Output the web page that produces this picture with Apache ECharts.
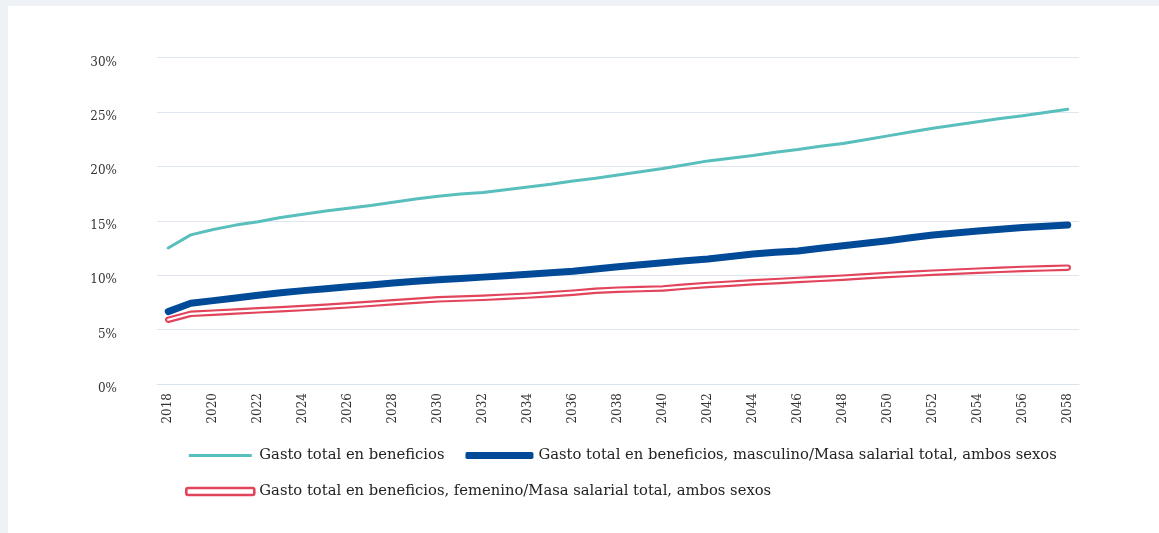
<!DOCTYPE html>
<html>
<head>
<meta charset="utf-8">
<script src="https://cdn.jsdelivr.net/npm/echarts@6/dist/echarts.min.js"></script>
<style>
  html, body { margin: 0; padding: 0; background: #eef2f6; width: 1159px; height: 533px; overflow: hidden; }
  #chart { position: absolute; left: 8px; top: 6px; width: 1151px; height: 527px; background: #ffffff; }
</style>
</head>
<body>
<div id="chart"></div>
<script>
const years = ['2018','2019','2020','2021','2022','2023','2024','2025','2026','2027','2028','2029','2030','2031','2032','2033','2034','2035','2036','2037','2038','2039','2040','2041','2042','2043','2044','2045','2046','2047','2048','2049','2050','2051','2052','2053','2054','2055','2056','2057','2058'];

const nameTotal = 'Gasto total en beneficios';
const nameMale = 'Gasto total en beneficios, masculino/Masa salarial total, ambos sexos';
const nameFemale = 'Gasto total en beneficios, femenino/Masa salarial total, ambos sexos';

const totalValues = [12.5,13.7,14.2,14.6,14.9,15.3,15.6,15.9,16.15,16.4,16.7,17.0,17.25,17.45,17.6,17.85,18.1,18.35,18.65,18.9,19.2,19.5,19.8,20.15,20.5,20.75,21.0,21.3,21.55,21.85,22.1,22.45,22.8,23.15,23.5,23.8,24.1,24.4,24.65,24.95,25.25];
const maleValues = [6.65,7.42,7.66,7.9,8.15,8.38,8.58,8.76,8.93,9.1,9.28,9.45,9.58,9.7,9.82,9.95,10.08,10.22,10.36,10.57,10.78,10.96,11.15,11.32,11.49,11.72,11.95,12.1,12.22,12.47,12.71,12.94,13.17,13.43,13.69,13.88,14.06,14.22,14.37,14.49,14.61];
const femaleValues = [5.9,6.45,6.55,6.66,6.77,6.87,6.98,7.1,7.23,7.37,7.51,7.65,7.78,7.85,7.92,8.02,8.12,8.25,8.39,8.57,8.67,8.72,8.78,8.95,9.1,9.22,9.35,9.45,9.56,9.66,9.77,9.9,10.02,10.12,10.23,10.32,10.41,10.49,10.57,10.63,10.69];

const colTeal = '#58bfbd';
const colBlue = '#004a98';
const colRed = '#e2445c';
const fontFam = '"DejaVu Serif", serif';

const chart = echarts.init(document.getElementById('chart'), null, { renderer: 'canvas' });
chart.setOption({
  animation: false,
  grid: { left: 149, right: 80, top: 51.5, bottom: 149, containLabel: false },
  legend: {
    left: 172, top: 437, right: 30,
    itemWidth: 68, itemHeight: 7, itemGap: 21,
    textStyle: { fontFamily: fontFam, fontSize: 14.75, color: '#222', padding: [0, 6, 0, 0] },
    data: [
      { name: nameTotal, icon: 'path://M0,0M0,7M0,2h63v3h-63z', itemStyle: { color: colTeal } },
      { name: nameMale, icon: 'roundRect', itemStyle: { color: colBlue } },
      { name: nameFemale, icon: 'roundRect', itemStyle: { color: '#fff', borderColor: colRed, borderWidth: 2.6 } }
    ]
  },
  xAxis: {
    type: 'category',
    data: years,
    boundaryGap: true,
    axisLine: { lineStyle: { color: '#dbe3ed', width: 1 } },
    axisTick: { show: false },
    axisLabel: { interval: 1, rotate: 90, margin: 9, fontFamily: fontFam, fontSize: 12, color: '#333' }
  },
  yAxis: {
    type: 'value',
    min: 0, max: 30, interval: 5,
    axisLine: { show: false },
    axisTick: { show: false },
    splitLine: { lineStyle: { color: '#dfe6ef', width: 1.2 } },
    axisLabel: { formatter: '{value}%', margin: 40, fontFamily: fontFam, fontSize: 12, color: '#333', verticalAlign: 'top', lineHeight: 10 }
  },
  series: [
    { name: nameTotal, type: 'line', data: totalValues, showSymbol: false, symbol: 'none',
      lineStyle: { color: colTeal, width: 3, cap: 'round' }, itemStyle: { color: colTeal }, z: 2 },
    { name: nameFemale, type: 'line', data: femaleValues, showSymbol: false, symbol: 'none',
      lineStyle: { color: colRed, width: 6.5, cap: 'round', join: 'round' }, itemStyle: { color: colRed }, z: 3 },
    { name: 'femInner', type: 'line', data: femaleValues, showSymbol: false, symbol: 'none', silent: true,
      lineStyle: { color: '#ffffff', width: 2.2, cap: 'round', join: 'round' }, itemStyle: { color: '#fff' }, z: 4 },
    { name: nameMale, type: 'line', data: maleValues, showSymbol: false, symbol: 'none',
      lineStyle: { color: colBlue, width: 7, cap: 'round', join: 'round' }, itemStyle: { color: colBlue }, z: 5 }
  ]
});
</script>
</body>
</html>
